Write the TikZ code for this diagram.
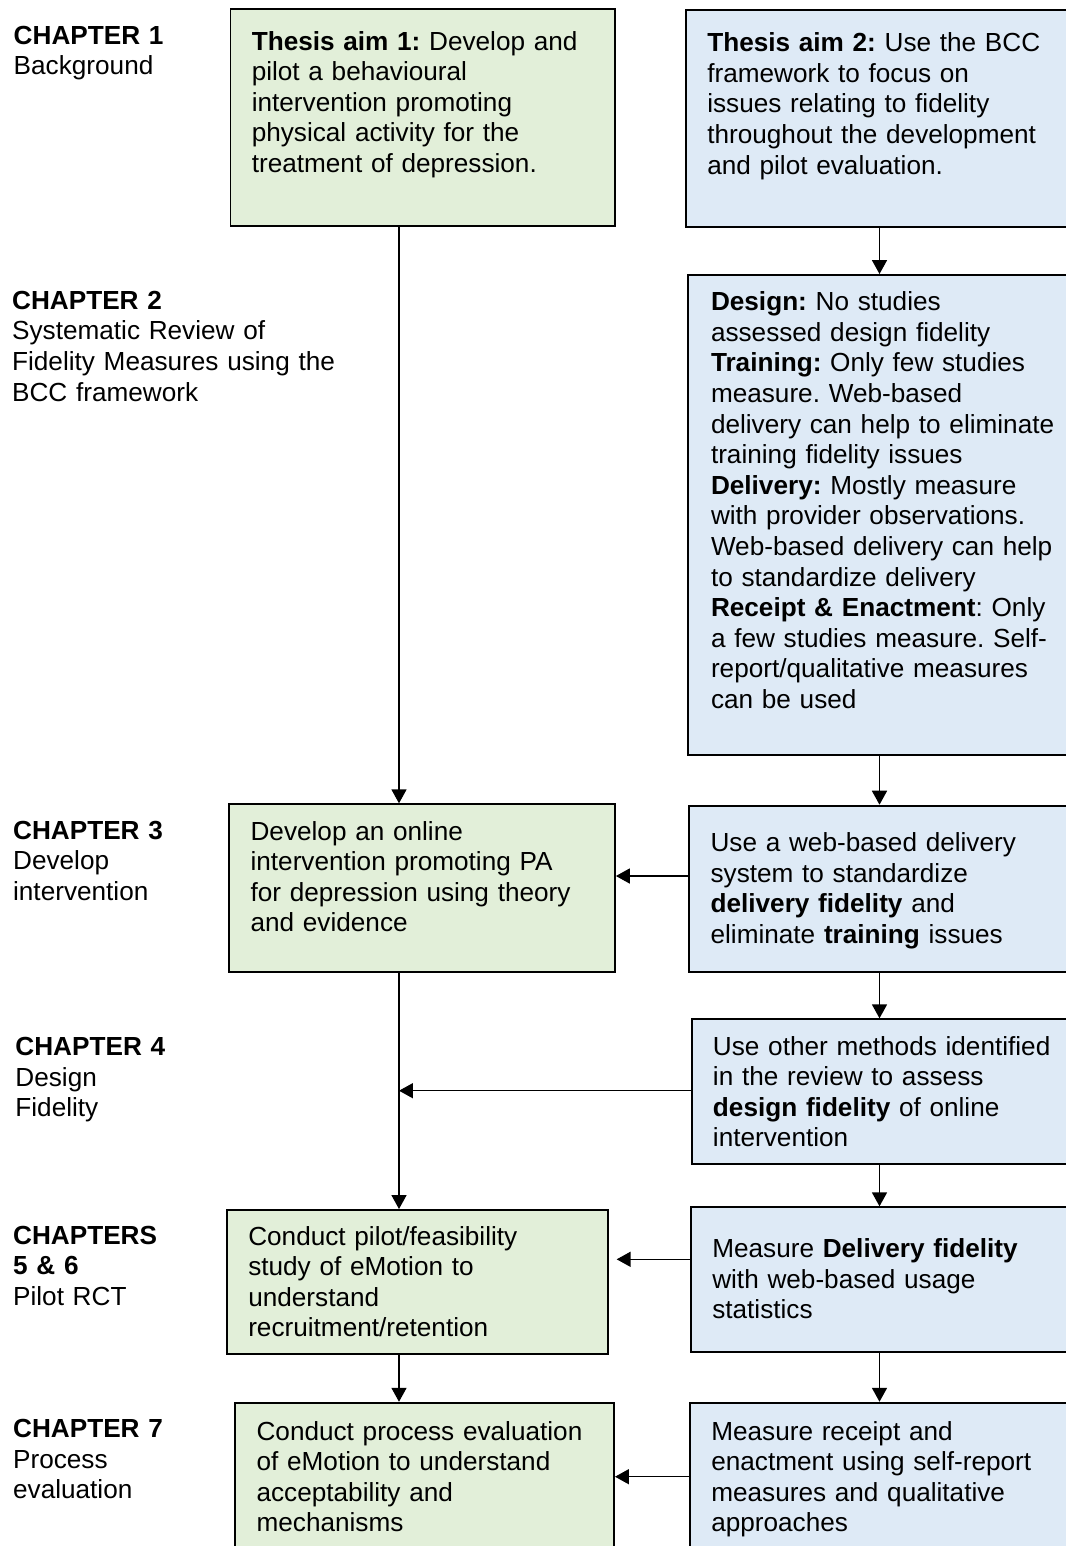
\documentclass[tikz,border=0pt]{standalone}
\usepackage{fontspec}
\setmainfont{Liberation Sans}
\usetikzlibrary{arrows.meta}
\definecolor{aimgreen}{HTML}{E2EFD9}
\definecolor{fidblue}{HTML}{DEEAF6}
\frenchspacing
\hyphenpenalty=10000

\begin{document}
\begin{tikzpicture}[x=0.451pt,y=-0.451pt,
 chap/.style={anchor=base west,inner sep=0pt,text width=160pt,align=left,font=\fontsize{11.8}{13.8}\selectfont},
 flowbox/.style={draw=black,line width=0.9pt,anchor=base west,inner ysep=0pt,inner xsep=9.6pt,align=left,font=\fontsize{11.8}{13.8}\selectfont},
 greenbox/.style={flowbox,fill=aimgreen},
 bluebox/.style={flowbox,fill=fidblue},
 arr/.style={line width=0.6pt,-{Triangle[length=6.3pt,width=6.8pt]}}]
\useasboundingbox (0,0) rectangle (1066,1546);

% chapter labels
\node[chap] (ch1) at (13.3,44) {\textbf{CHAPTER 1}\\Background};
\node[chap] (ch2) at (11.7,309.3) {\textbf{CHAPTER 2}\\Systematic Review of\\Fidelity Measures using the\\BCC framework};
\node[chap] (ch3) at (12.7,839.3) {\textbf{CHAPTER 3}\\Develop\\intervention};
\node[chap] (ch4) at (15,1055.7) {\textbf{CHAPTER 4}\\Design\\Fidelity};
\node[chap] (ch56) at (12.7,1244) {\textbf{CHAPTERS}\\\textbf{5 \& 6}\\Pilot RCT};
\node[chap] (ch7) at (12.7,1437.7) {\textbf{CHAPTER 7}\\Process\\evaluation};

% intervention column
\node[greenbox,text width=154.3pt,text height=18.27pt,text depth=79.38pt] (aim1) at (229.5,50)
{\textbf{Thesis aim 1:} Develop and\\pilot a behavioural\\intervention promoting\\physical activity for the\\treatment of depression.};
\node[greenbox,text width=154.7pt,text height=16.1pt,text depth=59.4pt] (devel) at (228.3,840)
{Develop an online\\intervention promoting PA\\for depression using theory\\and evidence};
\node[greenbox,text width=152.5pt,text height=15.79pt,text depth=49.29pt] (pilot) at (226,1245)
{Conduct pilot/feasibility\\study of eMotion to\\understand\\recruitment/retention};
\node[greenbox,text width=151.6pt,text height=16.8pt,text depth=58.6pt] (process) at (234.3,1440)
{Conduct process evaluation\\of eMotion to understand\\acceptability and\\mechanisms};

% fidelity column
\node[bluebox,text width=158.9pt,text height=18.81pt,text depth=78.93pt] (aim2) at (685,51.7)
{\textbf{Thesis aim 2:} Use the BCC\\framework to focus on\\issues relating to fidelity\\throughout the development\\and pilot evaluation.};
\node[bluebox,inner xsep=10.24pt,text width=156.6pt,text height=16.1pt,text depth=200.4pt] (review) at (687.3,310.7)
{\textbf{Design:} No studies\\assessed design fidelity\\\textbf{Training:} Only few studies\\measure. Web-based\\delivery can help to eliminate\\training fidelity issues\\\textbf{Delivery:} Mostly measure\\with provider observations.\\Web-based delivery can help\\to standardize delivery\\\textbf{Receipt \& Enactment}: Only\\a few studies measure. Self-\\report/qualitative measures\\can be used};
\node[bluebox,text width=157.4pt,text height=20.75pt,text depth=54.12pt] (webdel) at (688.3,851.7)
{Use a web-based delivery\\system to standardize\\\textbf{delivery fidelity} and\\eliminate \textbf{training} issues};
\node[bluebox,text width=156.4pt,text height=16.1pt,text depth=49.16pt] (design) at (690.7,1055)
{Use other methods identified\\in the review to assess\\\textbf{design fidelity} of online\\intervention};
\node[bluebox,text width=156.7pt,text height=22.73pt,text depth=42.66pt] (usage) at (690,1257.7)
{Measure \textbf{Delivery fidelity}\\with web-based usage\\statistics};
\node[bluebox,text width=157.1pt,text height=16.8pt,text depth=58.6pt] (receipt) at (689,1440)
{Measure receipt and\\enactment using self-report\\measures and qualitative\\approaches};

% connectors
\coordinate (lspine) at (399,0);
\coordinate (rspine) at (879.5,0);
\coordinate (join) at (399,1090.7);
\draw[arr] (aim1.south -| lspine) -- (devel.north -| lspine);
\draw[arr] (devel.south -| lspine) -- (pilot.north -| lspine);
\draw[arr] (pilot.south -| lspine) -- (process.north -| lspine);
\draw[arr] (aim2.south -| rspine) -- (review.north -| rspine);
\draw[arr] (review.south -| rspine) -- (webdel.north -| rspine);
\draw[arr] (webdel.south -| rspine) -- (design.north -| rspine);
\draw[arr] (design.south -| rspine) -- (usage.north -| rspine);
\draw[arr] (usage.south -| rspine) -- (receipt.north -| rspine);
\draw[arr] (webdel.west |- 0,876) -- (devel.east |- 0,876);
\draw[arr] (design.west |- join) -- (join);
\draw[arr,shorten >=3.6pt] (usage.west |- 0,1259.3) -- (pilot.east |- 0,1259.3);
\draw[arr] (receipt.west |- 0,1476.7) -- (process.east |- 0,1476.7);
\end{tikzpicture}
\end{document}
